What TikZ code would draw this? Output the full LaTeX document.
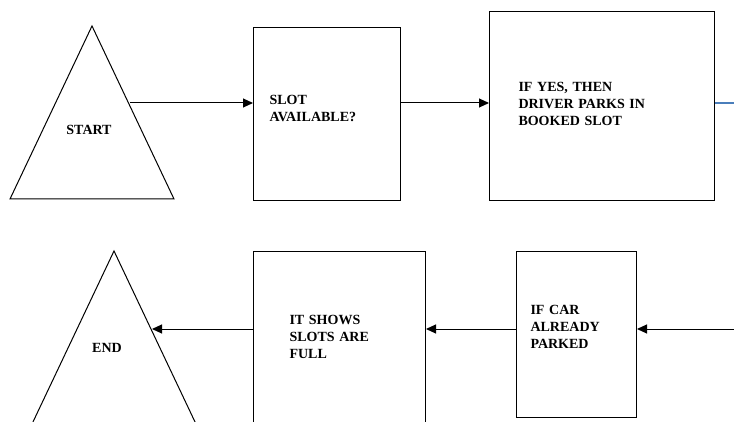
\documentclass[tikz,border=0pt]{standalone}
\usepackage{fontspec}
\setmainfont{Liberation Serif}
\usetikzlibrary{arrows.meta}
\definecolor{linkblue}{RGB}{74,126,187}

\begin{document}
\begin{tikzpicture}[x=1pt, y=1pt, main/.style = {draw, rectangle, align=left, anchor=north west, inner ysep=0pt}, line width=1pt, >={Triangle[length=10pt, width=9pt]}, font=\fontsize{14}{17}\selectfont\bfseries]
        \useasboundingbox (0,0) rectangle (734,421);
        % start and end triangles
        \draw (10,222) -- (92,395) -- (174,222) -- cycle;
        \draw (32,-3) -- (114,170) -- (196,-3) -- cycle;
        \node[anchor=base] (1) at (89,286.5) {START};
        \node[anchor=base] (6) at (107,68.5) {END};
        \coordinate (1o) at (130,318);
        \coordinate (6i) at (152,92);
        \node[main, inner xsep=16pt, text width=115pt, text height=77pt, text depth=96pt] (2) at (253,394) {SLOT\\AVAILABLE?};
        \node[main, inner xsep=29pt, text width=167pt, text height=80pt, text depth=109pt] (3) at (489,410) {IF YES, THEN\\DRIVER PARKS IN\\BOOKED SLOT};
        \node[main, inner xsep=14pt, text width=92pt, text height=63pt, text depth=103pt] (4) at (516,170) {IF CAR\\ALREADY\\PARKED};
        \node[main, inner xsep=36pt, text width=100pt, text height=73pt, text depth=100pt] (5) at (253,170) {IT SHOWS\\SLOTS ARE\\FULL};
        \coordinate (3o) at (734,318);
        \coordinate (4i) at (734,92);
        \draw[->] (1o) -- (1o -| 2.west);
        \draw[->] (2.east |- 1o) -- (3.west |- 1o);
        \draw[linkblue, line width=1.3pt] (3.east |- 3o) -- (3o);
        \draw[->] (4i) -- (4i -| 4.east);
        \draw[->] (4.west |- 4i) -- (5.east |- 4i);
        \draw[->] (5.west |- 6i) -- (6i);
    \end{tikzpicture}
\end{document}
